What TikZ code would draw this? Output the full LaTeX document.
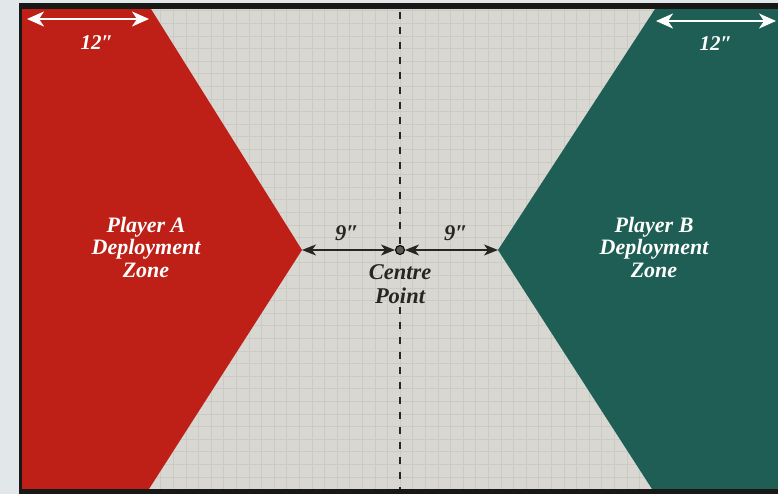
\documentclass[tikz,border=0pt]{standalone}
\usepackage{fontspec}
\setmainfont{Liberation Serif}
\usetikzlibrary{arrows.meta}
\definecolor{bgpage}{RGB}{226,231,234}
\definecolor{board}{RGB}{216,215,209}
\definecolor{gridc}{RGB}{203,203,197}
\definecolor{framec}{RGB}{24,24,22}
\definecolor{zonered}{RGB}{190,32,24}
\definecolor{zonegreen}{RGB}{30,94,84}
\definecolor{inkdark}{RGB}{38,38,36}
\tikzset{
  gridline/.style={gridc, line width=0.5pt},
  zonetext/.style={text=white, font=\fontsize{22}{22.5}\selectfont\bfseries\itshape, align=center, inner sep=0pt},
  darktext/.style={text=inkdark, font=\fontsize{22.5}{24}\selectfont\bfseries\itshape, align=center, inner sep=0pt},
  whitelabel/.style={text=white, font=\fontsize{21}{22}\selectfont\bfseries\itshape, inner sep=0pt},
  measure/.style={inkdark, line width=1.5pt, {Stealth[length=14pt,width=11pt,inset=4pt]}-{Stealth[length=14pt,width=11pt,inset=4pt]}},
  whitemeasure/.style={white, line width=2.4pt, {Stealth[length=17pt,width=15pt,inset=5pt]}-{Stealth[length=17pt,width=15pt,inset=5pt]}},
  centredot/.style={circle, fill=gray!70!black, draw=black, line width=1pt, minimum size=9pt, inner sep=0pt},
  centreline/.style={inkdark, line width=1.6pt, dash pattern=on 7pt off 8pt}
}
\begin{document}
\begin{tikzpicture}[x=1pt,y=-1pt]
\useasboundingbox (0,0) rectangle (778,494);
\fill[bgpage] (0,0) rectangle (778,494);
\fill[board] (19,3) rectangle (778,494);
% grid
\begin{scope}
\clip (22,9) rectangle (778,489);
\foreach \i in {-31,...,31} \draw[gridline] ({400+12.6*\i},9) -- ({400+12.6*\i},489);
\foreach \j in {-20,...,20} \draw[gridline] (22,{250+12.6*\j}) -- (778,{250+12.6*\j});
\end{scope}
% zone tips
\coordinate (tipA) at (302,250);
\coordinate (tipB) at (498,250);
% zones
\fill[zonered] (22,9) -- (151,9) -- (tipA) -- (149,489) -- (22,489) -- cycle;
\fill[zonegreen] (655,9) -- (tipB) -- (652,489) -- (778,489) -- (778,9) -- cycle;
% frame
\fill[framec] (19,3) rectangle (778,9);
\fill[framec] (19,489) rectangle (778,494);
\fill[framec] (19,3) rectangle (22,494);
% centre point and labels
\node[centredot] (cp) at (400,250) {};
\node[darktext] (centre) at (400,284) {Centre\\Point};
% centre line (broken round the label)
\coordinate (ltop) at (400,12);
\coordinate (lbot) at (400,489);
\draw[centreline] (ltop) -- (cp.north);
\draw[centreline] (centre.south) ++(0,3) coordinate (lmid) (lmid) -- (lbot);
% 9 inch measures
\draw[measure] (tipA) -- (cp);
\draw[measure] (cp) -- (tipB);
\node[darktext] (nineA) at (347,233) {9″};
\node[darktext] (nineB) at (456,233) {9″};
% 12 inch measures
\coordinate (aL) at (27,19);
\coordinate (aR) at (149,19);
\coordinate (bL) at (656,21);
\coordinate (bR) at (776,21);
\draw[whitemeasure] (aL) -- (aR);
\draw[whitemeasure] (bL) -- (bR);
\node[whitelabel] (twA) at (97,43) {12″};
\node[whitelabel] (twB) at (716,44) {12″};
% zone labels
\node[zonetext] (zoneA) at (146,247) {Player A\\Deployment\\Zone};
\node[zonetext] (zoneB) at (654,247) {Player B\\Deployment\\Zone};
\end{tikzpicture}
\end{document}
